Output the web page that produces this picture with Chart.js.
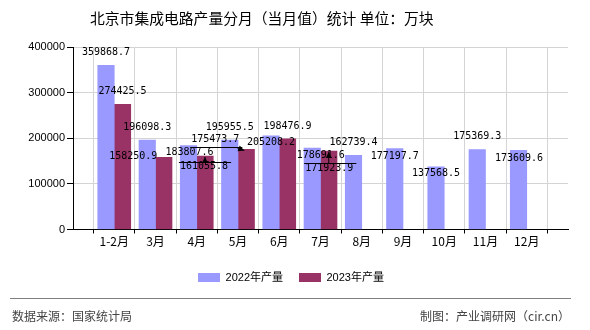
<!DOCTYPE html>
<html>
<head>
<meta charset="utf-8">
<script src="https://cdn.jsdelivr.net/npm/chart.js@4.4.1/dist/chart.umd.min.js"></script>
<style>
  html, body { margin: 0; padding: 0; background: #fff; }
  #wrap { position: relative; width: 590px; height: 330px; overflow: hidden; }
  #chart { position: absolute; left: 0; top: 0; }
  .title { position: absolute; left: 90px; top: 8px; font: 14.8px "Noto Sans CJK SC"; line-height: 20px; color: #000; white-space: nowrap; }
  .rule { position: absolute; left: 10px; top: 298px; width: 561px; height: 1px; background: #808080; }
  .foot { position: absolute; top: 308px; font: 12px "Noto Sans CJK SC"; line-height: 16px; color: #444; white-space: nowrap; }
</style>
</head>
<body>
<div id="wrap">
  <canvas id="chart" width="590" height="330"></canvas>
  <div class="title">北京市集成电路产量分月（当月值）统计 单位：万块</div>
  <div class="rule"></div>
  <div class="foot" style="left:12px">数据来源：国家统计局</div>
  <div class="foot" style="right:20px">制图：产业调研网（cir.cn）</div>
</div>
<script>
// Data
const months = ['1-2月', '3月', '4月', '5月', '6月', '7月', '8月', '9月', '10月', '11月', '12月'];
const output2022 = [359868.7, 196098.3, 183807.6, 195955.5, 205208.2, 178691.6, 162739.4, 177197.7, 137568.5, 175369.3, 173609.6];
const output2023 = [274425.5, 158250.9, 161055.8, 175473.7, 198476.9, 171923.9];
const seriesNames = ['2022年产量', '2023年产量'];
const yTicks = [0, 100000, 200000, 300000, 400000];

// Axis has an empty slot on each side of the months
const labels = ['', ...months, ''];
const pad = arr => [null, ...arr, ...Array(labels.length - 1 - arr.length).fill(null)];

// Where each value label sits relative to its bar top (label centre), default [0, -13]
const labelShift = [
    { 2: [1, 7], 4: [0, 6.5], 5: [8.5, 7.5], 7: [0, 7.5], 8: [0, 6.5], 10: [0.5, 8] },
    { 1: [-30.5, -1], 2: [-1, 10.5], 3: [-31, -10], 5: [0.5, 17] }
];
// Leader lines with arrows in the reference
const leaders = [
    {},
    { 2: { dy: -5, kind: 'up' }, 3: { dy: 8, kind: 'side' }, 5: { dy: -5, kind: 'up' } }
];

function arrow(ctx, ax, ay, bx, by) {
    ctx.beginPath();
    ctx.moveTo(ax, ay);
    ctx.lineTo(bx, by);
    ctx.stroke();
    const ang = Math.atan2(by - ay, bx - ax);
    const len = 6, w = 3;
    ctx.beginPath();
    ctx.moveTo(bx, by);
    ctx.lineTo(bx - len * Math.cos(ang) + w * Math.sin(ang), by - len * Math.sin(ang) - w * Math.cos(ang));
    ctx.lineTo(bx - len * Math.cos(ang) - w * Math.sin(ang), by - len * Math.sin(ang) + w * Math.cos(ang));
    ctx.closePath();
    ctx.fill();
}

const valueLabels = {
    id: 'valueLabels',
    afterDatasetsDraw(chart) {
        const ctx = chart.ctx;
        ctx.save();
        ctx.font = '10px "DejaVu Sans Mono"';
        ctx.textAlign = 'center';
        ctx.textBaseline = 'middle';
        ctx.fillStyle = '#000';
        ctx.strokeStyle = '#000';
        ctx.lineWidth = 1;
        chart.data.datasets.forEach((ds, di) => {
            const meta = chart.getDatasetMeta(di);
            meta.data.forEach((bar, i) => {
                const v = ds.data[i];
                if (v == null) return;
                const m = i - 1;
                const [dx, dy] = labelShift[di][m] || [0, -13];
                const cx = bar.x + dx, cy = bar.y + dy;
                const text = v.toFixed(1);
                ctx.fillText(text, cx, cy);
                const ld = leaders[di][m];
                if (ld) {
                    const w = ctx.measureText(text).width;
                    const ly = Math.round(cy + ld.dy) + 0.5;
                    const x0 = cx - w / 2 - 1, x1 = cx + w / 2 + 3;
                    ctx.beginPath();
                    ctx.moveTo(x0, ly);
                    ctx.lineTo(x1, ly);
                    ctx.stroke();
                    if (ld.kind === 'up') arrow(ctx, bar.x, ly, bar.x, bar.y + 1);
                    else arrow(ctx, x1 - 6, ly, bar.x - 2, bar.y + 1);
                }
            });
        });
        ctx.restore();
    }
};

new Chart(document.getElementById('chart'), {
    type: 'bar',
    data: {
        labels: labels,
        datasets: [
            { label: seriesNames[0], data: pad(output2022), backgroundColor: '#9999FF', borderWidth: 0 },
            { label: seriesNames[1], data: pad(output2023), backgroundColor: '#993366', borderWidth: 0 }
        ]
    },
    options: {
        responsive: false,
        animation: false,
        devicePixelRatio: 1,
        barThickness: 16.5,
        layout: { padding: { left: 14, right: 22, top: 47, bottom: 37 } },
        plugins: {
            tooltip: { enabled: false },
            legend: {
                position: 'bottom',
                labels: {
                    boxWidth: 22,
                    boxHeight: 9,
                    padding: 16,
                    color: '#000',
                    font: { family: '"Liberation Sans", "Noto Sans CJK SC"', size: 11 }
                }
            }
        },
        scales: {
            x: {
                offset: false,
                grid: { color: '#d4d4d4', tickColor: '#000', tickLength: 4 },
                border: { color: '#000' },
                ticks: {
                    autoSkip: false,
                    maxRotation: 0,
                    padding: 1,
                    color: '#000',
                    font: { family: '"Noto Sans CJK SC"', size: 12 }
                },
                afterFit: s => { s.height = 26.5; }
            },
            y: {
                min: yTicks[0],
                max: yTicks[yTicks.length - 1],
                afterBuildTicks: s => { s.ticks = yTicks.map(v => ({ value: v })); },
                grid: { color: '#d4d4d4', tickColor: '#000', tickLength: 6 },
                border: { color: '#000' },
                ticks: {
                    padding: 2,
                    color: '#000',
                    font: { family: '"Liberation Sans"', size: 11 },
                    callback: v => String(v)
                },
                afterFit: s => { s.width = 59; }
            }
        }
    },
    plugins: [valueLabels]
});
</script>
</body>
</html>
